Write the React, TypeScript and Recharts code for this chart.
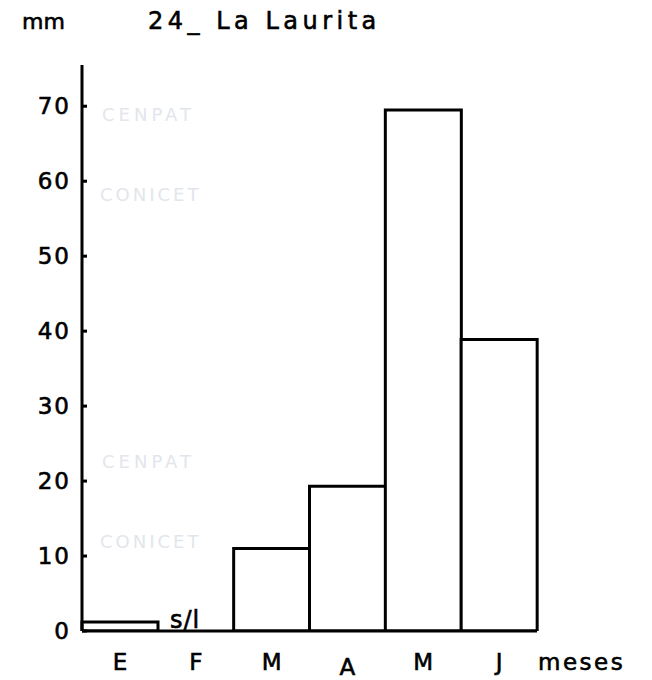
import { BarChart, Bar, XAxis, YAxis } from "recharts";

const months = ["E", "F", "M", "A", "M", "J"];
const rainfall: (number | null)[] = [1.2, null, 11, 19.3, 69.5, 38.9];
const yTicks = [0, 10, 20, 30, 40, 50, 60, 70];

const data = months.map((m, i) => ({ key: `${m}${i}`, month: m, value: rainfall[i] }));

const font = "'DejaVu Sans', sans-serif";

function YTick({ x, y, payload }: any) {
  return (
    <g>
      <line x1={x} x2={x + 5} y1={y} y2={y} stroke="#000" strokeWidth={3} />
      <text
        x={x - 11}
        y={y}
        textAnchor="end"
        dominantBaseline="central"
        fontFamily={font}
        fontSize={23}
        letterSpacing={2}
        fill="#000"
        stroke="#000"
        strokeWidth={0.6}
      >
        {payload.value}
      </text>
    </g>
  );
}

function XTick({ x, y, payload, index }: any) {
  const label = months[index] ?? payload.value;
  // the "A" sits a little lower in the original drawing
  const dy = index === 3 ? 36 : 31;
  return (
    <text
      x={x}
      y={y + dy}
      textAnchor="middle"
      dominantBaseline="central"
      fontFamily={font}
      fontSize={23}
      fill="#000"
      stroke="#000"
      strokeWidth={0.6}
    >
      {label}
    </text>
  );
}

const overlay = (left: number, top: number, size: number, spacing = 0, color = "#000"): React.CSSProperties => ({
  position: "absolute",
  left,
  top,
  fontFamily: font,
  fontSize: size,
  letterSpacing: spacing,
  color,
  lineHeight: 1,
  whiteSpace: "nowrap",
});

const ink: React.CSSProperties = { WebkitTextStroke: "0.6px #000" };

export default function App() {
  return (
    <div style={{ position: "fixed", left: 0, top: 0, width: 652, height: 680, background: "#fff" }}>
      {/* watermark */}
      <div style={overlay(102, 106, 18, 4, "#e2e6ec")}>CENPAT</div>
      <div style={overlay(100, 186, 18, 3, "#e2e6ec")}>CONICET</div>
      <div style={overlay(102, 453, 18, 4, "#e2e6ec")}>CENPAT</div>
      <div style={overlay(100, 533, 18, 3, "#e2e6ec")}>CONICET</div>

      <BarChart
        width={652}
        height={680}
        data={data}
        margin={{ top: 65, right: 115, bottom: 0, left: 22 }}
        barCategoryGap={0}
        style={{ position: "absolute", left: 0, top: 0 }}
      >
        <YAxis
          domain={[0, 75.5]}
          ticks={yTicks}
          width={60}
          axisLine={{ stroke: "#000", strokeWidth: 3 }}
          tickLine={false}
          tickSize={0}
          tickMargin={0}
          tick={<YTick />}
          allowDataOverflow
        />
        <XAxis
          dataKey="key"
          height={49}
          axisLine={{ stroke: "#000", strokeWidth: 3 }}
          tickLine={false}
          tickSize={0}
          tickMargin={0}
          interval={0}
          tick={<XTick />}
        />
        <Bar dataKey="value" fill="#fff" stroke="#000" strokeWidth={3} isAnimationActive={false} />
      </BarChart>

      <div style={{ ...overlay(22, 11, 22, 0), ...ink }}>mm</div>
      <div style={{ ...overlay(148, 9, 24, 4.5), ...ink }}>24_ La Laurita</div>
      <div style={{ ...overlay(170, 608, 24, 1), ...ink }}>s/l</div>
      <div style={{ ...overlay(538, 651, 23, 2.5), ...ink }}>meses</div>
    </div>
  );
}
